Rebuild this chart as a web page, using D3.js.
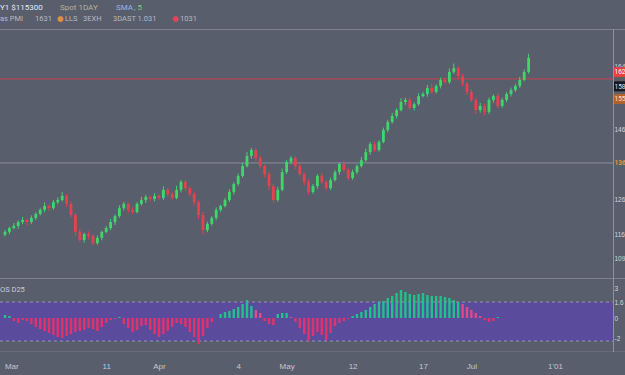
<!DOCTYPE html>
<html>
<head>
<meta charset="utf-8">
<script src="https://cdn.jsdelivr.net/npm/d3@7"></script>
<style>
  html, body { margin: 0; padding: 0; background: #595e6d; overflow: hidden; }
  svg { display: block; font-family: Roboto, "DejaVu Sans", sans-serif; }
</style>
</head>
<body>
<svg id="chart" width="625" height="375"></svg>
<script>
// ---- price candles (open of each bar = previous close) ----
const firstOpen = 115.8;
const closes = [
  116.6,117.7,118.3,119.4,120.0,119.4,120.6,121.7,122.9,124.0,123.4,125.1,125.7,126.9,124.6,121.4,116.6,114.3,116.0,115.4,
  113.4,114.9,116.6,117.7,119.4,121.1,123.4,124.6,122.9,122.3,124.6,125.7,126.6,126.0,126.9,126.3,128.6,127.4,126.3,128.6,
  130.9,129.1,127.4,125.1,121.4,117.1,118.9,120.6,122.9,124.0,125.7,128.0,130.3,132.6,135.4,138.3,140.0,137.7,135.4,133.1,
  129.7,125.7,128.6,133.7,136.6,137.7,135.4,133.1,130.9,128.0,129.7,132.6,130.9,129.1,131.4,133.7,136.0,134.3,132.0,133.7,
  135.4,137.1,139.4,141.7,140.0,142.3,145.7,148.0,149.7,151.4,153.7,154.3,152.0,153.1,155.4,156.0,157.7,156.6,158.3,160.0,
  159.4,162.3,163.4,161.1,158.9,156.6,154.3,151.4,152.6,150.9,154.3,155.4,152.6,154.3,156.0,157.1,158.3,160.0,162.3,166.3
];
// wick extension above / below the body
const wickHi = [
  0.6,0.4,0.8,0.5,0.9,0.3,0.7,0.5,0.6,1.0,0.4,0.6,0.8,1.1,0.5,0.7,0.6,0.9,0.4,0.8,
  0.5,0.7,0.4,0.6,0.9,0.5,0.8,0.6,0.4,0.7,0.5,0.9,0.6,0.4,0.8,0.5,1.0,0.6,0.7,1.2,
  0.5,0.6,0.4,0.8,0.5,0.9,0.6,0.5,0.7,0.4,0.6,0.8,0.5,0.7,0.9,1.1,0.6,0.5,0.7,0.4,
  0.8,0.6,0.9,1.0,0.5,0.6,0.4,0.7,0.5,0.8,0.6,0.5,0.9,0.4,0.7,0.6,0.5,0.8,0.6,0.7,
  0.5,0.9,1.0,0.6,0.8,0.5,0.7,0.6,0.9,0.5,1.1,0.6,0.7,0.5,0.8,0.6,0.9,1.2,0.5,0.7,
  0.6,1.0,1.3,0.5,0.7,0.6,0.8,0.5,0.9,0.6,0.7,0.5,0.8,0.6,0.5,0.7,0.6,0.9,0.8,1.2
];
const wickLo = [
  0.5,0.7,0.4,0.8,0.6,0.9,0.5,0.6,0.4,0.7,0.8,0.5,0.6,0.4,0.9,0.7,1.2,0.6,0.8,1.0,
  0.6,0.5,0.7,0.4,0.6,0.8,0.5,0.7,0.9,0.6,0.4,0.5,0.8,0.6,0.7,0.5,0.6,0.9,0.5,0.4,
  0.7,0.8,0.6,0.9,1.1,1.3,0.6,0.5,0.7,0.6,0.4,0.5,0.7,0.6,0.5,0.4,0.8,0.7,0.6,0.9,
  1.2,0.7,0.5,0.4,0.6,0.7,0.8,0.6,1.0,0.7,0.5,0.8,0.6,0.7,0.5,0.4,0.8,0.6,0.7,0.5,
  0.6,0.4,0.5,0.8,0.6,0.5,0.4,0.6,0.5,0.7,0.4,0.8,0.6,0.7,0.5,0.4,0.8,0.6,0.5,0.7,
  0.4,0.5,0.6,0.8,0.7,0.9,0.6,1.1,0.7,0.9,0.6,0.8,0.7,0.5,0.6,0.7,0.5,0.6,0.4,0.5
];

// ---- oscillator histogram ----
const oscHist = [
  0.3,0.2,-0.3,-0.5,-0.2,-0.3,-0.6,-0.9,-1.1,-1.3,-1.5,-1.7,-1.9,-2.0,-1.8,-1.6,-1.4,-1.3,-1.2,-1.0,
  -1.1,-1.3,-0.9,-0.5,-0.2,-0.1,0.1,-0.6,-1.0,-1.4,-1.2,-0.8,-0.7,-1.2,-1.6,-1.9,-1.6,-1.3,-0.9,-0.5,
  -0.6,-0.9,-1.4,-1.9,-2.6,-1.8,-1.0,-0.4,0.0,0.4,0.6,0.7,0.9,1.1,1.4,1.8,1.2,0.8,0.5,-0.3,
  -0.6,-0.7,0.4,0.5,0.5,0.1,-0.4,-1.0,-1.6,-2.3,-1.8,-1.4,-1.7,-2.2,-1.5,-0.8,-0.5,-0.3,-0.1,0.2,
  0.4,0.6,0.8,1.1,1.4,1.6,1.7,2.0,2.2,2.5,2.8,2.6,2.4,2.3,2.4,2.5,2.3,2.2,2.2,2.2,
  2.1,2.0,1.8,1.6,1.4,1.1,0.8,0.5,0.2,-0.2,-0.4,-0.3,0.1,0,0,0,0,0,0,0
];
const oscUpper = 1.6, oscLower = -2.3;

// ---- levels and axis labels ----
const lastLevel = 160.3;      // red horizontal level
const pivotLevel = 136.3;     // grey horizontal level
const priceTicks = [164, 146, 126, 116, 109];
const priceTags = [
  { value: 162.3, text: "162", fill: "#e8403f", color: "#ffffff" },
  { value: 158.2, text: "158", fill: "#17171f", color: "#e6e6ee" },
  { value: 154.6, text: "155", fill: "#b3622a", color: "#ffe2c2" }
];
const pivotTag = "136";
const oscTicks = [3, 1.6, 0, -2];
const timeTicks = [1, 23, 35, 53, 64, 79, 95, 106, 125];
const timeLabels = ["Mar", "11", "Apr", "4", "May", "12", "17", "Jul", "1'01"];
const headerTop = [
  { x: 0,   text: "Y1 $115300", color: "#e6e8ef" },
  { x: 60,  text: "Spot 1DAY",  color: "#bcae98" },
  { x: 116, text: "SMA",        color: "#93b4ec" },
  { x: 134, text: ", 5",        color: "#6fd27a" }
];
const headerBottom = [
  { x: 0,   text: "as PMI",      color: "#b6b9c4" },
  { x: 35,  text: "1631",        color: "#b6b9c4" },
  { x: 57,  text: "\u25CF",      color: "#e0913a" },
  { x: 65,  text: "LLS",         color: "#b6b9c4" },
  { x: 83,  text: "3EXH",        color: "#b6b9c4" },
  { x: 113, text: "3DAST 1.031", color: "#b6b9c4" },
  { x: 172, text: "\u25CF",      color: "#e0455a" },
  { x: 180, text: "1031",        color: "#b6b9c4" }
];

// ---- build candle records ----
const candles = closes.map((c, i) => {
  const o = i === 0 ? firstOpen : closes[i - 1];
  return { i, o, c, h: Math.max(o, c) + wickHi[i], l: Math.min(o, c) - wickLo[i] };
});

const svg = d3.select("#chart");
const W = 625, axisX = 613;
const GREEN = "#3fd66b", RED = "#e5414e";

svg.append("rect").attr("width", W).attr("height", 375).attr("fill", "#595e6d");

// scales
const x = d3.scaleLinear().domain([0, 119]).range([5, 528.6]);
const y = d3.scaleLinear().domain([110, 160]).range([255, 80]);
const oy = d3.scaleLinear().domain([-3, 3]).range([348, 288]);

// panel separators
const lineCol = "#7d8190";
svg.append("line").attr("x1", 0).attr("x2", W).attr("y1", 29.5).attr("y2", 29.5).attr("stroke", lineCol);
svg.append("line").attr("x1", 0).attr("x2", W).attr("y1", 278.5).attr("y2", 278.5).attr("stroke", lineCol);
svg.append("line").attr("x1", 0).attr("x2", W).attr("y1", 351.5).attr("y2", 351.5).attr("stroke", "#676b7a");
svg.append("line").attr("x1", axisX + 0.5).attr("x2", axisX + 0.5).attr("y1", 29).attr("y2", 352)
  .attr("stroke", "#8e92a0");

// header
const h1 = svg.append("text").attr("y", 10).attr("font-size", 8);
headerTop.forEach(d => h1.append("tspan").attr("x", d.x).attr("fill", d.color).text(d.text));
const h2 = svg.append("text").attr("y", 21).attr("font-size", 7.5);
headerBottom.forEach(d => h2.append("tspan").attr("x", d.x).attr("fill", d.color).text(d.text));

// horizontal levels
svg.append("line").attr("x1", 0).attr("x2", axisX).attr("y1", y(lastLevel)).attr("y2", y(lastLevel))
  .attr("stroke", "#c8404f").attr("stroke-width", 1);
svg.append("line").attr("x1", 0).attr("x2", axisX).attr("y1", y(pivotLevel)).attr("y2", y(pivotLevel))
  .attr("stroke", "#8a8e9b").attr("stroke-width", 1);

// candles
const cg = svg.append("g");
const bw = 2.8;
cg.selectAll("line.wick").data(candles).join("line")
  .attr("class", "wick")
  .attr("x1", d => x(d.i)).attr("x2", d => x(d.i))
  .attr("y1", d => y(d.h)).attr("y2", d => y(d.l))
  .attr("stroke", d => d.c >= d.o ? GREEN : RED).attr("stroke-width", 1);
cg.selectAll("rect.body").data(candles).join("rect")
  .attr("class", "body")
  .attr("x", d => x(d.i) - bw / 2).attr("width", bw)
  .attr("y", d => y(Math.max(d.o, d.c)))
  .attr("height", d => Math.max(1, Math.abs(y(d.o) - y(d.c))))
  .attr("fill", d => d.c >= d.o ? GREEN : RED);

// right price axis (narrow gutter, compact labels)
const labelSize = 6.5;
const pa = svg.append("g").attr("transform", `translate(${axisX + 1},0)`)
  .call(d3.axisRight(y).tickValues(priceTicks).tickSize(0).tickFormat(d3.format("d")));
pa.select(".domain").remove();
pa.selectAll("text").attr("fill", "#d2d4dc").attr("font-size", labelSize).attr("x", 0.5);

// price tags
const tg = svg.append("g");
priceTags.forEach(t => {
  tg.append("rect").attr("x", axisX + 1).attr("y", y(t.value) - 5).attr("width", 12).attr("height", 10)
    .attr("fill", t.fill);
  tg.append("text").attr("x", axisX + 1.5).attr("y", y(t.value) + 2.5).attr("font-size", labelSize)
    .attr("fill", t.color).text(t.text);
});
svg.append("text").attr("x", axisX + 1.5).attr("y", y(pivotLevel) + 2.5).attr("font-size", labelSize)
  .attr("font-weight", "bold").attr("fill", "#e8913a").text(pivotTag);

// ---- oscillator panel ----
svg.append("rect").attr("x", 0).attr("width", axisX).attr("y", oy(oscUpper)).attr("height", oy(oscLower) - oy(oscUpper))
  .attr("fill", "#5a4b9c");
[oscUpper, oscLower].forEach(v => {
  svg.append("line").attr("x1", 0).attr("x2", axisX).attr("y1", oy(v)).attr("y2", oy(v))
    .attr("stroke", "#a7a3c8").attr("stroke-dasharray", "3,3").attr("stroke-width", 0.8);
});
svg.append("text").attr("x", 0).attr("y", 292).attr("font-size", 7.5).attr("fill", "#c9cbd4").text("OS D25");

// bar colour: below zero red; above zero green, pink once it fades well below its run peak
let runMax = 0;
const oscBars = oscHist.map((v, i) => {
  if (v <= 0) runMax = 0; else runMax = Math.max(runMax, v);
  const col = v < 0 ? "#e0336b" : (v < 0.55 * runMax ? "#e04a86" : "#22c08a");
  return { i, v, col };
}).filter(d => d.v !== 0);

svg.append("g").selectAll("rect").data(oscBars).join("rect")
  .attr("x", d => x(d.i) - 1.2).attr("width", 2.4)
  .attr("y", d => Math.min(oy(0), oy(d.v)))
  .attr("height", d => Math.abs(oy(d.v) - oy(0)))
  .attr("fill", d => d.col);

const oa = svg.append("g").attr("transform", `translate(${axisX + 1},0)`)
  .call(d3.axisRight(oy).tickValues(oscTicks).tickSize(0).tickFormat(d => String(d)));
oa.select(".domain").remove();
oa.selectAll("text").attr("fill", "#d2d4dc").attr("font-size", labelSize).attr("x", 0.5);

// ---- time axis ----
const ta = svg.append("g").attr("transform", "translate(0,360)")
  .call(d3.axisBottom(x).tickValues(timeTicks).tickSize(0)
    .tickFormat((d, i) => timeLabels[i]));
ta.select(".domain").remove();
ta.selectAll("text").attr("fill", "#c4c6d0").attr("font-size", 8);
ta.selectAll(".tick").filter((d, i) => i === 0).select("text").attr("text-anchor", "start").attr("x", -5);
</script>
</body>
</html>
